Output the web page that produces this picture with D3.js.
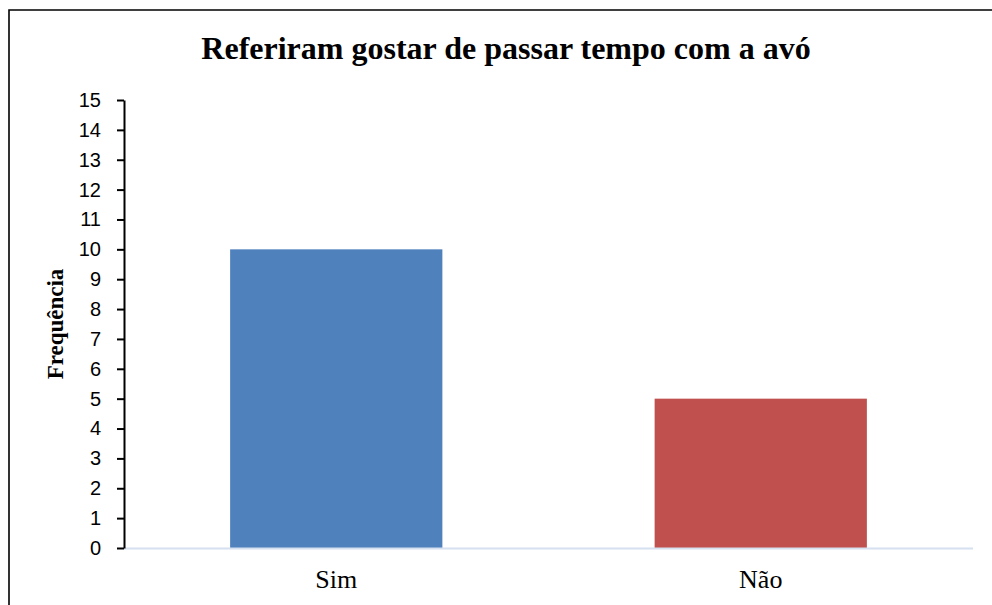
<!DOCTYPE html>
<html>
<head>
<meta charset="utf-8">
<script src="https://cdn.jsdelivr.net/npm/d3@7"></script>
<style>
    body { margin: 0; background: #fff; }
    svg { display: block; }
</style>
</head>
<body>
<script>
(function () {
    // Chart data
    var categories = ["Sim", "Não"];
    var frequencies = [10, 5];
    var barColors = ["#4f81bd", "#c0504d"];
    var yTicks = d3.range(0, 16);

    var width = 992;
    var height = 605;

    // Plot area
    var plotLeft = 124;
    var plotRight = 973;
    var plotTop = 100;
    var plotBottom = 548;

    var svg = d3.select("body")
        .append("svg")
        .attr("width", width)
        .attr("height", height);

    // Outer frame (top and left edges visible)
    svg.append("path")
        .attr("d", "M9,605 L9,10 L992,10")
        .attr("fill", "none")
        .attr("stroke", "#000")
        .attr("stroke-width", 1.6);

    // Scales
    var x = d3.scaleBand()
        .domain(categories)
        .range([plotLeft, plotRight])
        .paddingInner(0.5)
        .paddingOuter(0.25);

    var y = d3.scaleLinear()
        .domain([0, 15])
        .range([plotBottom, plotTop]);

    // Bars
    svg.selectAll(".bar")
        .data(categories)
        .enter()
        .append("rect")
        .attr("class", "bar")
        .attr("x", function (d) { return x(d); })
        .attr("width", x.bandwidth())
        .attr("y", function (d, i) { return y(frequencies[i]); })
        .attr("height", function (d, i) { return plotBottom - y(frequencies[i]); })
        .attr("fill", function (d, i) { return barColors[i]; });

    // Category axis baseline
    svg.append("line")
        .attr("x1", plotLeft)
        .attr("x2", plotRight)
        .attr("y1", plotBottom + 0.5)
        .attr("y2", plotBottom + 0.5)
        .attr("stroke", "#d5e0f0")
        .attr("stroke-width", 2);

    // Y axis
    var yAxis = svg.append("g")
        .attr("transform", "translate(" + plotLeft + ",0)")
        .call(d3.axisLeft(y)
            .tickValues(yTicks)
            .tickFormat(d3.format("d"))
            .tickSize(7)
            .tickPadding(16)
            .tickSizeOuter(0));

    yAxis.select(".domain")
        .attr("stroke", "#000")
        .attr("stroke-width", 2);
    yAxis.selectAll(".tick line")
        .attr("stroke", "#000")
        .attr("stroke-width", 2);
    yAxis.selectAll(".tick text")
        .attr("fill", "#000")
        .style("font-family", "'Liberation Sans', Arial, sans-serif")
        .style("font-size", "20px");

    // Category labels
    svg.selectAll(".cat-label")
        .data(categories)
        .enter()
        .append("text")
        .attr("class", "cat-label")
        .attr("x", function (d) { return x(d) + x.bandwidth() / 2; })
        .attr("y", 588)
        .attr("text-anchor", "middle")
        .style("font-family", "'Liberation Serif', 'Times New Roman', serif")
        .style("font-size", "26px")
        .text(function (d) { return d; });

    // Title
    svg.append("text")
        .attr("x", 506)
        .attr("y", 59)
        .attr("text-anchor", "middle")
        .style("font-family", "'Liberation Serif', 'Times New Roman', serif")
        .style("font-size", "32px")
        .style("font-weight", "bold")
        .text("Referiram gostar de passar tempo com a avó");

    // Y axis title
    svg.append("text")
        .attr("transform", "translate(63,324) rotate(-90)")
        .attr("text-anchor", "middle")
        .style("font-family", "'Liberation Serif', 'Times New Roman', serif")
        .style("font-size", "23px")
        .style("font-weight", "bold")
        .text("Frequência");
})();
</script>
</body>
</html>
